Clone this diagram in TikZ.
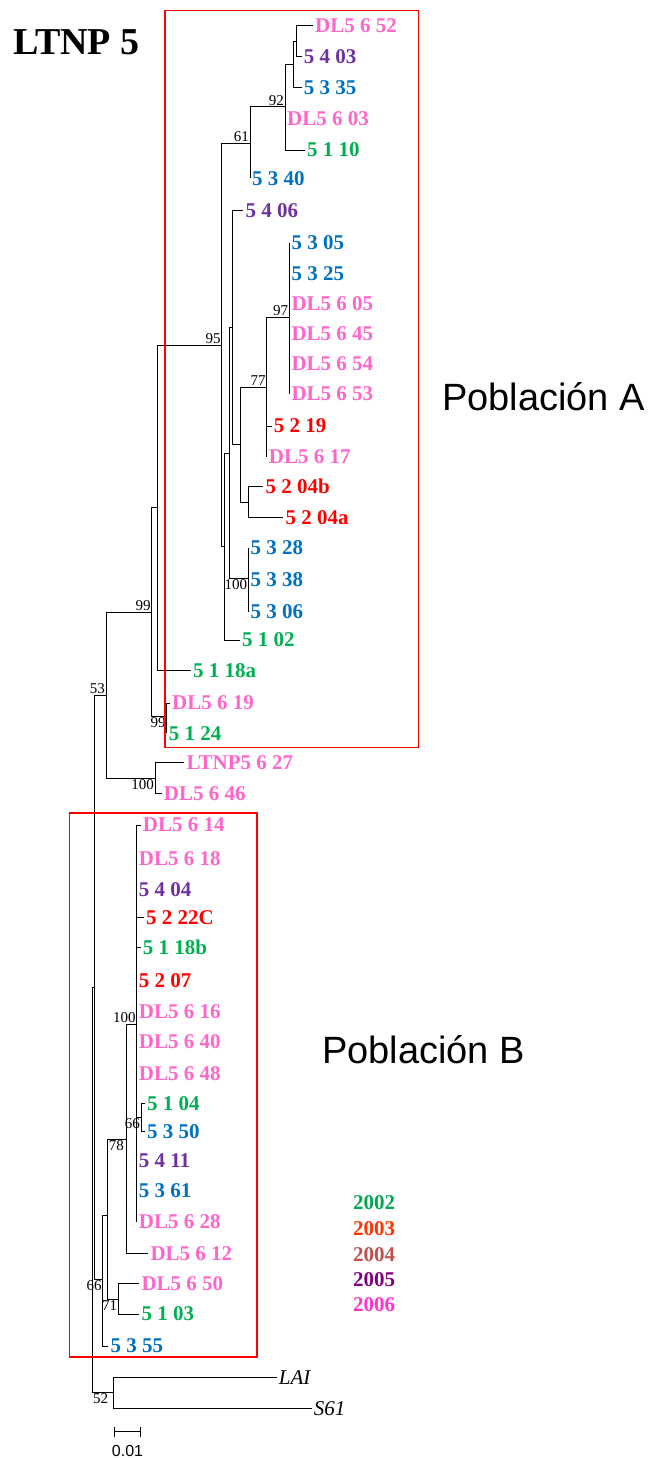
\documentclass[tikz,border=0pt]{standalone}
\usepackage{fontspec}
\setmainfont{Liberation Serif}
\newfontfamily\arialfont{Liberation Sans}
\usetikzlibrary{arrows.meta}
\definecolor{Rosa}{HTML}{FF66CC}
\definecolor{Lila}{HTML}{7030A0}
\definecolor{Azul}{HTML}{0070C0}
\definecolor{Verde}{HTML}{00B050}
\definecolor{Rojo}{HTML}{FF0000}
\definecolor{Y2002}{HTML}{00A651}
\definecolor{Y2003}{HTML}{FF3300}
\definecolor{Y2004}{HTML}{C0504D}
\definecolor{Y2005}{HTML}{7F007F}
\definecolor{Y2006}{HTML}{FF33CC}

\begin{document}
\begin{tikzpicture}[x=1pt,y=-1pt,
    leaf/.style={anchor=west,inner xsep=2pt,inner ysep=0pt,font=\fontsize{21}{21}\selectfont\bfseries},
    outg/.style={anchor=west,inner xsep=2pt,inner ysep=0pt,font=\fontsize{21}{21}\selectfont\itshape},
    boot/.style={inner sep=1pt,font=\fontsize{15}{15}\selectfont},
    branch/.style={line width=0.9pt,black},
    popbox/.style={draw=red,line width=1.6pt},
    year/.style={anchor=base west,inner sep=0pt,font=\fontsize{21}{21}\selectfont\bfseries}]

  \useasboundingbox (0,0) rectangle (651,1458);

  % internal nodes of the tree
  \coordinate (root) at (92.3,1190);
  \coordinate (nP) at (94.5,987);
  \coordinate (n53) at (106,695);
  \coordinate (n99a) at (151.7,612);
  \coordinate (nA) at (157.7,507.8);
  \coordinate (n95) at (221.7,345);
  \coordinate (n61) at (250,143.3);
  \coordinate (n92) at (285,106.7);
  \coordinate (nC) at (293.3,64.3);
  \coordinate (nD) at (296.7,41.2);
  \coordinate (nB) at (224.3,546.7);
  \coordinate (nE) at (229.3,453.4);
  \coordinate (nF) at (232.7,327.3);
  \coordinate (nG) at (240.7,444);
  \coordinate (n77) at (266.7,387);
  \coordinate (n97) at (289.3,317.3);
  \coordinate (nH) at (248.3,502);
  \coordinate (n100a) at (248.3,578);
  \coordinate (n99b) at (166.7,716.7);
  \coordinate (n100c) at (155,778.3);
  \coordinate (n66b) at (102.7,1279);
  \coordinate (n78) at (107.7,1215);
  \coordinate (nI) at (126.7,1139);
  \coordinate (n100d) at (136.7,1024.3);
  \coordinate (n66a) at (141,1117);
  \coordinate (n71) at (118.3,1299);
  \coordinate (nog) at (113.3,1392);

  % leaves
  \foreach \n/\x/\y/\col/\txt in {
      l01/313/25.7/Rosa/DL5 6 52, l02/301.7/56.7/Lila/5 4 03,
      l03/301.7/87.3/Azul/5 3 35, l04/285/118.3/Rosa/DL5 6 03,
      l05/305/150/Verde/5 1 10, l06/250/178.3/Azul/5 3 40,
      l07/243.3/210.7/Lila/5 4 06, l08/289.3/242.7/Azul/5 3 05,
      l09/289.3/273.3/Azul/5 3 25, l10/289.3/303.3/Rosa/DL5 6 05,
      l11/289.3/334/Rosa/DL5 6 45, l12/289.3/364/Rosa/DL5 6 54,
      l13/289.3/394/Rosa/DL5 6 53, l14/271.7/426/Rojo/5 2 19,
      l15/266.7/456.7/Rosa/DL5 6 17, l16/263.3/486.7/Rojo/5 2 04b,
      l17/283.3/517.3/Rojo/5 2 04a, l18/248.3/548/Azul/5 3 28,
      l19/248.3/580/Azul/5 3 38, l20/248.3/611.7/Azul/5 3 06,
      l21/240/640/Verde/5 1 02, l22/191/670.7/Verde/5 1 18a,
      l23/170/703/Rosa/DL5 6 19, l24/166.7/733.3/Verde/5 1 24,
      l25/184.3/762.7/Rosa/LTNP5 6 27, l26/161.7/793.3/Rosa/DL5 6 46,
      l27/140.7/825/Rosa/DL5 6 14, l28/136.7/858.3/Rosa/DL5 6 18,
      l29/136.7/890/Lila/5 4 04, l30/144/917.3/Rojo/5 2 22C,
      l31/140.7/947.3/Verde/5 1 18b, l32/136.7/980.7/Rojo/5 2 07,
      l33/136.7/1011.7/Rosa/DL5 6 16, l34/136.7/1041.7/Rosa/DL5 6 40,
      l35/136.7/1073.3/Rosa/DL5 6 48, l36/145/1103.3/Verde/5 1 04,
      l37/145/1131.7/Azul/5 3 50, l38/136.7/1160.7/Lila/5 4 11,
      l39/136.7/1190.7/Azul/5 3 61, l40/136.7/1221.7/Rosa/DL5 6 28,
      l41/148.3/1253.3/Rosa/DL5 6 12, l42/139.3/1283.3/Rosa/DL5 6 50,
      l43/139.3/1314/Verde/5 1 03, l44/108.3/1346/Azul/5 3 55}
    \node[leaf,text=\col] (\n) at (\x,\y) {\txt};
  \node[outg] (lLAI) at (276.7,1377.3) {LAI};
  \node[outg] (lS61) at (311.7,1408.3) {S61};

  % branches
  \foreach \p/\c in {root/nP,root/nog,nP/n53,nP/n66b,n53/n99a,n53/n100c,
      n99a/nA,n99a/n99b,nA/n95,n95/n61,n95/nB,n61/n92,n92/nC,nC/nD,
      nB/nE,nE/nF,nE/n100a,nF/nG,nG/n77,nG/nH,n77/n97,
      n66b/n78,n78/nI,n78/n71,nI/n100d,n100d/n66a}
    \draw[branch] (\p) |- (\c);
  \foreach \p/\c in {nA/l22,n61/l06,n92/l04,n92/l05,nC/l03,nD/l01,nD/l02,
      nB/l21,nF/l07,n77/l14,n77/l15,n97/l08,n97/l09,n97/l10,n97/l11,n97/l12,
      n97/l13,nH/l16,nH/l17,n100a/l18,n100a/l19,n100a/l20,n99b/l23,n99b/l24,
      n100c/l25,n100c/l26,n66b/l44,nI/l41,n100d/l27,n100d/l28,n100d/l29,
      n100d/l30,n100d/l31,n100d/l32,n100d/l33,n100d/l34,n100d/l35,
      n100d/l38,n100d/l39,n100d/l40,n66a/l36,n66a/l37,n71/l42,n71/l43,
      nog/lLAI,nog/lS61}
    \draw[branch] (\p) |- (\c);

  % bootstrap values
  \node[boot,anchor=south east] (b95) at (n95) {95};
  \node[boot,anchor=south east] (b61) at (n61) {61};
  \node[boot,anchor=south east] (b92) at (n92) {92};
  \node[boot,anchor=south east] (b97) at (n97) {97};
  \node[boot,anchor=south east] (b77) at (n77) {77};
  \node[boot,anchor=north east] (b100a) at (n100a) {100};
  \node[boot,anchor=south east] (b99a) at (n99a) {99};
  \node[boot,anchor=north east] (b99b) at (n99b) {99};
  \node[boot,anchor=north east] (b100c) at (n100c) {100};
  \node[boot,anchor=south east] (b53) at (n53) {53};
  \node[boot,anchor=south east] (b100d) at (n100d) {100};
  \node[boot,anchor=north east] (b66a) at (n66a) {66};
  \node[boot,anchor=north west] (b78) at (n78 |- nI) {78};
  \node[boot,anchor=north east] (b66b) at (n66b) {66};
  \node[boot,anchor=north east] (b71) at (n71) {71};
  \node[boot,anchor=north east,xshift=-4pt] (b52) at (nog) {52};

  % population boxes
  \draw[popbox] (165,10.7) rectangle (418.3,747.3);
  \draw[popbox] (69.3,813) rectangle (256.7,1356.7);

  \node[anchor=base west,inner sep=0pt,font=\fontsize{38}{38}\selectfont\bfseries] (titulo) at (13,55) {LTNP 5};
  \node[anchor=base west,inner sep=0pt,font=\arialfont\fontsize{38}{38}\selectfont] (popA) at (442,410.7) {Población A};
  \node[anchor=base west,inner sep=0pt,font=\arialfont\fontsize{38}{38}\selectfont] (popB) at (322,1063.3) {Población B};

  % legend
  \node[year,text=Y2002] (y2002) at (353,1209) {2002};
  \node[year,text=Y2003] (y2003) at (353,1235) {2003};
  \node[year,text=Y2004] (y2004) at (353,1261.5) {2004};
  \node[year,text=Y2005] (y2005) at (353,1286.7) {2005};
  \node[year,text=Y2006] (y2006) at (353,1311.7) {2006};

  % scale bar
  \coordinate (sbL) at (114.3,1431.7);
  \coordinate (sbR) at (140.7,1431.7);
  \draw[branch,{Bar[width=10pt]}-{Bar[width=10pt]}] (sbL) -- (sbR);
  \node[anchor=base,inner sep=0pt,font=\arialfont\fontsize{16}{16}\selectfont] (escala) at (127.5,1456.5) {0.01};
\end{tikzpicture}
\end{document}
